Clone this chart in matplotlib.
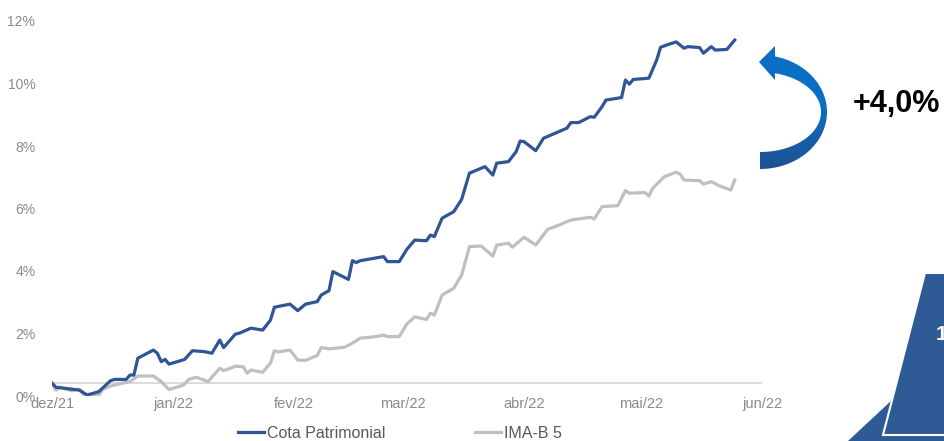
import numpy as np
import pandas as pd
import matplotlib
matplotlib.use('Agg')
import matplotlib.pyplot as plt
import matplotlib.dates as mdates
from matplotlib.patches import Polygon
from matplotlib.colors import LinearSegmentedColormap

plt.rcParams['font.family'] = ['Liberation Sans', 'DejaVu Sans']

#   data (cumulative return, %)
cota_dates = ['2021-12-01', '2021-12-02', '2021-12-08', '2021-12-10', '2021-12-13', '2021-12-16',
              '2021-12-17', '2021-12-20', '2021-12-21', '2021-12-22', '2021-12-23', '2021-12-27',
              '2021-12-28', '2021-12-29', '2021-12-30', '2021-12-31', '2022-01-04', '2022-01-06',
              '2022-01-09', '2022-01-11', '2022-01-13', '2022-01-14', '2022-01-17', '2022-01-18',
              '2022-01-21', '2022-01-24', '2022-01-26', '2022-01-27', '2022-01-31', '2022-02-02',
              '2022-02-04', '2022-02-07', '2022-02-08', '2022-02-10', '2022-02-11', '2022-02-15',
              '2022-02-16', '2022-02-17', '2022-02-18', '2022-02-24', '2022-02-25', '2022-02-28',
              '2022-03-02', '2022-03-04', '2022-03-07', '2022-03-08', '2022-03-09', '2022-03-11',
              '2022-03-14', '2022-03-16', '2022-03-18', '2022-03-22', '2022-03-24', '2022-03-25',
              '2022-03-28', '2022-03-30', '2022-03-31', '2022-04-01', '2022-04-04', '2022-04-06',
              '2022-04-09', '2022-04-12', '2022-04-13', '2022-04-15', '2022-04-18', '2022-04-19',
              '2022-04-21', '2022-04-22', '2022-04-26', '2022-04-27', '2022-04-28', '2022-04-29',
              '2022-05-03', '2022-05-05', '2022-05-06', '2022-05-08', '2022-05-10', '2022-05-12',
              '2022-05-13', '2022-05-16', '2022-05-17', '2022-05-19', '2022-05-20', '2022-05-23',
              '2022-05-25']
cota_vals = [0.41, 0.28, 0.19, 0.03, 0.14, 0.49,
             0.53, 0.53, 0.67, 0.67, 1.21, 1.47,
             1.37, 1.10, 1.17, 1.02, 1.17, 1.45,
             1.42, 1.37, 1.79, 1.55, 1.98, 2.01,
             2.17, 2.11, 2.43, 2.84, 2.94, 2.73,
             2.94, 3.02, 3.23, 3.37, 3.98, 3.73,
             4.33, 4.27, 4.33, 4.46, 4.30, 4.30,
             4.70, 4.99, 4.97, 5.15, 5.10, 5.69,
             5.90, 6.29, 7.13, 7.34, 7.07, 7.45,
             7.50, 7.82, 8.16, 8.14, 7.85, 8.25,
             8.41, 8.57, 8.75, 8.75, 8.94, 8.92,
             9.26, 9.47, 9.55, 10.11, 9.98, 10.13,
             10.17, 10.75, 11.16, 11.25, 11.33, 11.13,
             11.18, 11.15, 10.97, 11.18, 11.07, 11.09,
             11.39]

imab_dates = ['2021-12-01', '2021-12-02', '2021-12-03', '2021-12-06', '2021-12-08', '2021-12-09',
              '2021-12-13', '2021-12-14', '2021-12-16', '2021-12-19', '2021-12-21', '2021-12-23',
              '2021-12-27', '2021-12-29', '2021-12-31', '2022-01-03', '2022-01-04', '2022-01-05',
              '2022-01-07', '2022-01-09', '2022-01-10', '2022-01-13', '2022-01-14', '2022-01-17',
              '2022-01-19', '2022-01-20', '2022-01-21', '2022-01-24', '2022-01-26', '2022-01-27',
              '2022-01-28', '2022-01-31', '2022-02-02', '2022-02-04', '2022-02-07', '2022-02-08',
              '2022-02-10', '2022-02-14', '2022-02-16', '2022-02-18', '2022-02-22', '2022-02-24',
              '2022-02-25', '2022-02-28', '2022-03-02', '2022-03-04', '2022-03-07', '2022-03-08',
              '2022-03-09', '2022-03-11', '2022-03-14', '2022-03-16', '2022-03-18', '2022-03-21',
              '2022-03-24', '2022-03-25', '2022-03-28', '2022-03-29', '2022-04-01', '2022-04-04',
              '2022-04-07', '2022-04-10', '2022-04-12', '2022-04-13', '2022-04-18', '2022-04-19',
              '2022-04-21', '2022-04-25', '2022-04-27', '2022-04-28', '2022-05-02', '2022-05-03',
              '2022-05-04', '2022-05-07', '2022-05-10', '2022-05-11', '2022-05-12', '2022-05-16',
              '2022-05-17', '2022-05-19', '2022-05-21', '2022-05-24', '2022-05-25']
imab_vals = [0.41, 0.19, 0.28, 0.17, 0.21, 0.06,
             0.03, 0.21, 0.32, 0.41, 0.46, 0.64,
             0.64, 0.46, 0.21, 0.32, 0.38, 0.53,
             0.60, 0.51, 0.46, 0.89, 0.81, 0.95,
             0.94, 0.73, 0.83, 0.76, 1.05, 1.45,
             1.41, 1.47, 1.15, 1.14, 1.30, 1.55,
             1.51, 1.56, 1.69, 1.85, 1.90, 1.95,
             1.90, 1.90, 2.31, 2.53, 2.45, 2.65,
             2.59, 3.23, 3.45, 3.87, 4.78, 4.80,
             4.48, 4.83, 4.89, 4.76, 5.08, 4.83,
             5.33, 5.47, 5.58, 5.63, 5.72, 5.67,
             6.06, 6.09, 6.57, 6.49, 6.51, 6.40,
             6.65, 7.02, 7.16, 7.10, 6.91, 6.89,
             6.78, 6.86, 6.73, 6.59, 6.91]

month_ticks = ['2021-12-01', '2022-01-01', '2022-02-01', '2022-03-01', '2022-04-01', '2022-05-01', '2022-06-01']
month_labels = ['dez/21', 'jan/22', 'fev/22', 'mar/22', 'abr/22', 'mai/22', 'jun/22']
y_ticks = [0, 2, 4, 6, 8, 10, 12]
baseline = 0.41
diff_label = '+4,0%'

BLUE = '#2f5597'
GRAY = '#bfbfbf'
TICK = '#8a8a8a'

W, H = 945, 441
fig = plt.figure(figsize=(W / 100, H / 100), dpi=100)
ax = fig.add_axes([52 / W, (H - 396) / H, 710 / W, 375 / H])

ax.plot(pd.to_datetime(cota_dates), cota_vals, color=BLUE, lw=2.3, label='Cota Patrimonial',
        solid_joinstyle='round', zorder=3)
ax.plot(pd.to_datetime(imab_dates), imab_vals, color=GRAY, lw=2.3, label='IMA-B 5',
        solid_joinstyle='round', zorder=2)
ax.axhline(baseline, color='#d9d9d9', lw=1.3, zorder=1)

ax.set_xlim(pd.Timestamp(month_ticks[0]), pd.Timestamp(month_ticks[-1]))
ax.set_ylim(0, 12)
ax.set_xticks(pd.to_datetime(month_ticks))
ax.set_xticklabels(month_labels)
ax.set_yticks(y_ticks)
ax.set_yticklabels(['%d%%' % v for v in y_ticks])
ax.tick_params(axis='x', length=0, pad=0.5, labelsize=10.5, labelcolor=TICK)
ax.tick_params(axis='y', length=0, pad=12, labelsize=10, labelcolor=TICK)
for s in ax.spines.values():
    s.set_visible(False)
ax.patch.set_alpha(0)

leg = fig.legend(loc='center', bbox_to_anchor=(400 / W, (H - 433) / H), ncol=2, frameon=False,
                 fontsize=11.5, handlelength=1.6, handletextpad=0.2, columnspacing=5.6,
                 labelcolor='#595959', borderpad=0)

#   overlay in pixel coordinates for the decorations
ov = fig.add_axes([0, 0, 1, 1], zorder=5)
ov.set_xlim(0, W)
ov.set_ylim(H, 0)
ov.axis('off')

#   curved arrow (crescent band + head)
cx, cy = 760, 112
t_out = np.linspace(np.pi / 2, -np.arccos(15 / 67), 80)
t_in = np.linspace(-np.arccos(15 / 61), np.pi / 2, 80)
outer = np.c_[cx + 67 * np.cos(t_out), cy + 57 * np.sin(t_out)]
inner = np.c_[cx + 61 * np.cos(t_in), cy + 40 * np.sin(t_in)]
head = np.array([[775, 46], [759, 62], [775, 80]])
pts = np.vstack([outer, head, inner])
arrow = Polygon(pts, closed=True, facecolor='none', edgecolor='none')
ov.add_patch(arrow)
cmap = LinearSegmentedColormap.from_list('arr', ['#0a6fc2', '#0a6fc2', '#1f4f8f'])
grad = np.linspace(0, 1, 200).reshape(-1, 1)
im = ov.imshow(grad, cmap=cmap, extent=[750, 835, 172, 44], aspect='auto', zorder=6)
im.set_clip_path(arrow)
ov.set_xlim(0, W)
ov.set_ylim(H, 0)

ov.text(853, 104, diff_label, fontsize=22, fontweight='bold', color='black', ha='left', va='center')

#   slide decoration at the bottom right
ov.add_patch(Polygon([[848, 441], [892, 400], [945, 400], [945, 441]], closed=True,
                     facecolor='#2e5a96', edgecolor='none'))
ov.add_patch(Polygon([[925, 273], [947, 273], [947, 435], [883, 435]], closed=True,
                     facecolor='#2e5a96', edgecolor='white', lw=1.5, joinstyle='miter'))
ov.text(936, 335, '1', fontsize=15, fontweight='bold', color='white', ha='left', va='center')

fig.savefig('out.png', dpi=100)
